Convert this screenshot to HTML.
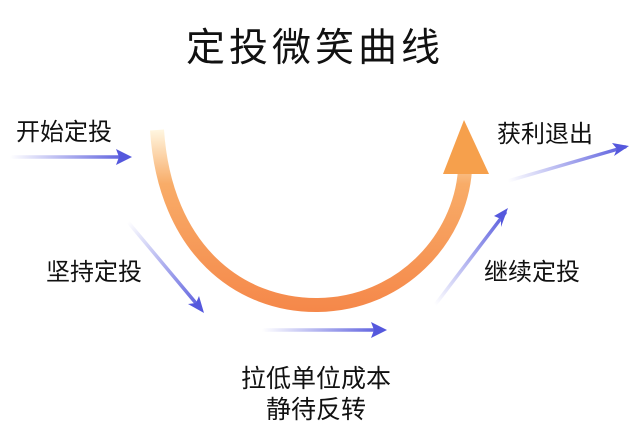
<!DOCTYPE html>
<html><head><meta charset="utf-8"><style>
html,body{margin:0;padding:0;background:#fff;}
svg{display:block;}
text{font-family:"Liberation Sans","Noto Sans CJK SC",sans-serif;fill:#111;}
</style></head><body>
<svg width="640" height="431" viewBox="0 0 640 431" xmlns="http://www.w3.org/2000/svg">
<defs>
<linearGradient id="og" x1="0" y1="130" x2="0" y2="310" gradientUnits="userSpaceOnUse">
<stop offset="0" stop-color="#fff6e0"/>
<stop offset="0.3" stop-color="#f8ac68"/>
<stop offset="1" stop-color="#f5884a"/>
</linearGradient>
<linearGradient id="b1" x1="10" y1="0" x2="130" y2="0" gradientUnits="userSpaceOnUse"><stop offset="0" stop-color="#5558dd" stop-opacity="0"/><stop offset="1" stop-color="#5558dd"/></linearGradient>
<linearGradient id="b2" x1="128" y1="222" x2="203" y2="312" gradientUnits="userSpaceOnUse"><stop offset="0" stop-color="#5558dd" stop-opacity="0"/><stop offset="1" stop-color="#5558dd"/></linearGradient>
<linearGradient id="b3" x1="262" y1="0" x2="386" y2="0" gradientUnits="userSpaceOnUse"><stop offset="0" stop-color="#5558dd" stop-opacity="0"/><stop offset="1" stop-color="#5558dd"/></linearGradient>
<linearGradient id="b4" x1="435" y1="305" x2="507" y2="210" gradientUnits="userSpaceOnUse"><stop offset="0" stop-color="#5558dd" stop-opacity="0"/><stop offset="1" stop-color="#5558dd"/></linearGradient>
<linearGradient id="b5" x1="508" y1="181" x2="628" y2="146" gradientUnits="userSpaceOnUse"><stop offset="0" stop-color="#5558dd" stop-opacity="0"/><stop offset="1" stop-color="#5558dd"/></linearGradient>
</defs>
<text x="315" y="61" font-size="39" text-anchor="middle" letter-spacing="4">定投微笑曲线</text>
<path d="M157 130 C 165 250, 240 306, 318 305 C 400 304, 460 240, 465 170" fill="none" stroke="url(#og)" stroke-width="14"/>
<polygon points="464,120 489,174 443,174" fill="#f6a04c"/>
<g stroke-width="3.5" fill="none" stroke-linecap="round">
<line x1="10" y1="157" x2="127" y2="157" stroke="url(#b1)"/>
<line x1="128" y1="222" x2="200" y2="308" stroke="url(#b2)"/>
<line x1="262" y1="330" x2="382" y2="330" stroke="url(#b3)"/>
<line x1="435" y1="305" x2="505" y2="213" stroke="url(#b4)"/>
<line x1="508" y1="181" x2="625" y2="147" stroke="url(#b5)"/>
</g>
<g fill="#5558dd">
<polygon points="132,157 116,149 119,157 116,165"/>
<polygon points="204,313 199,296 196,303 188,304"/>
<polygon points="387,330 371,322 374,330 371,338"/>
<polygon points="508,208 494,216 501,219 501,227"/>
<polygon points="629,146 612,143 617,149 614,156"/>
</g>
<g font-size="24">
<text x="16" y="140">开始定投</text>
<text x="46" y="280">坚持定投</text>
<text x="497" y="142">获利退出</text>
<text x="484" y="280">继续定投</text>
<text x="316" y="387" text-anchor="middle" font-size="25">拉低单位成本</text>
<text x="316" y="418" text-anchor="middle" font-size="25">静待反转</text>
</g>
</svg>
</body></html>
